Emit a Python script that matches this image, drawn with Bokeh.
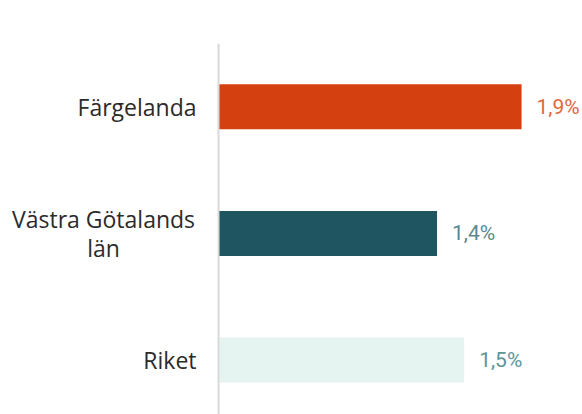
from bokeh.plotting import figure
from bokeh.models import ColumnDataSource, Range1d, Span
from bokeh.core.properties import value
from bokeh.embed import file_html
from bokeh.resources import INLINE

categories = ["Färgelanda", "Västra Götalands\nlän", "Riket"]
values = [1.90, 1.37, 1.54]
value_labels = ["1,9%", "1,4%", "1,5%"]

# styling (not data)
bar_colors = ["#D54011", "#1F5560", "#E5F4F1"]
label_colors = ["#E2663F", "#5B8790", "#5A9699"]
cat_align = ["right", "center", "right"]
cat_offset = [-22, -115, -22]

pos = list(range(len(categories)))
src = ColumnDataSource(dict(y=pos, v=values, lab=value_labels, cat=categories,
                            zero=[0] * len(pos), bc=bar_colors, lc=label_colors,
                            ca=cat_align, co=cat_offset))

p = figure(width=582, height=414, output_backend="svg", toolbar_location=None,
           x_range=Range1d(-1.367, 2.282), y_range=Range1d(2.43, -0.5),
           min_border_left=0, min_border_right=0, min_border_top=43,
           min_border_bottom=0)
p.axis.visible = False
p.grid.visible = False
p.outline_line_color = None

p.add_layout(Span(location=0, dimension="height", line_color="#D9D9D9",
                  line_width=2))
p.hbar(y="y", right="v", left=0, height=0.355, fill_color="bc",
       line_color=None, source=src)
p.text(x="v", y="y", text="lab", x_offset=15, text_baseline="middle",
       text_align="left", text_color="lc", text_font=value("Roboto"),
       text_font_size="21px", source=src)
p.text(x="zero", y="y", text="cat", x_offset="co", text_align="ca",
       text_baseline="middle", text_color="#2B2B2B",
       text_font=value("Open Sans"), text_font_size="23px",
       text_line_height=0.9, source=src)

open("out.html", "w").write(file_html(p, INLINE))
